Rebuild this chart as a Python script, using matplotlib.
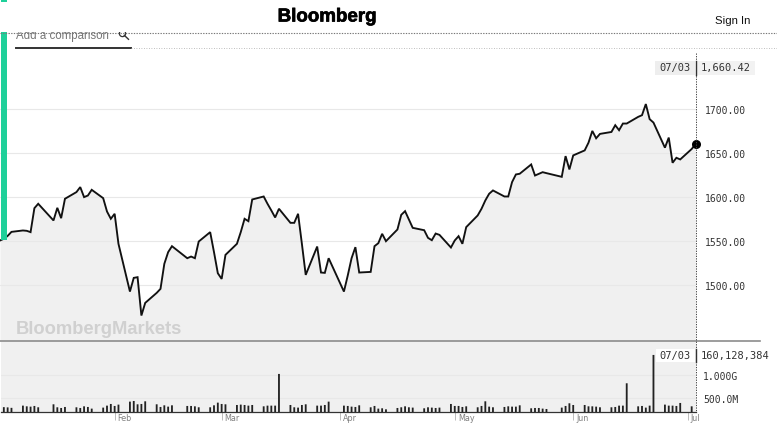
"""Bloomberg index page screenshot: price line, volume bars, page chrome."""
import matplotlib
matplotlib.use("Agg")
import matplotlib.pyplot as plt
import matplotlib.dates as mdates
import matplotlib.patheffects as pe
import pandas as pd

HOLIDAYS = ["2018-01-15", "2018-02-19", "2018-03-30", "2018-05-28"]
dates = pd.bdate_range("2018-01-02", "2018-07-03").difference(pd.to_datetime(HOLIDAYS))

prices = [
    1550.8, 1552.7, 1556.0, 1560.6,
    1562.2, 1561.8, 1560.3, 1587.6, 1592.6,
    1573.6, 1588.0, 1576.2, 1598.3,
    1605.9, 1611.6, 1600.2, 1602.0, 1608.5,
    1599.0, 1583.8, 1575.5, 1581.2, 1547.0,
    1492.6, 1508.2, 1509.0, 1465.3, 1479.7,
    1491.1, 1495.7, 1524.2, 1537.5, 1544.3,
    1530.6, 1532.5, 1530.6, 1549.6,
    1560.3, 1537.5, 1513.5, 1507.0, 1534.4,
    1547.0, 1560.3, 1575.5, 1572.8, 1597.5,
    1600.9, 1592.6, 1585.0, 1577.0, 1586.9,
    1570.9, 1570.9, 1581.2, 1547.0, 1511.6,
    1543.9, 1514.3, 1513.9, 1530.6,
    1492.6, 1510.9, 1530.6, 1543.2, 1514.3,
    1515.0, 1544.3, 1547.7, 1558.4, 1550.0,
    1563.3, 1580.0, 1584.2, 1574.7, 1565.2,
    1562.5, 1553.8, 1551.1, 1558.7, 1557.2,
    1542.8, 1550.8, 1555.7, 1547.0, 1566.0,
    1579.3, 1586.9, 1596.4, 1604.0, 1607.8,
    1600.9, 1600.9, 1617.3, 1626.0, 1626.8,
    1637.4, 1624.8, 1626.7, 1628.6, 1627.5,
    1623.3, 1646.9, 1631.7, 1647.7,
    1653.4, 1662.2, 1675.6, 1667.2, 1672.2,
    1674.4, 1682.1, 1676.4, 1684.0, 1684.0,
    1691.6, 1693.5, 1706.2, 1689.0, 1685.1,
    1656.5, 1668.0, 1639.3, 1645.0, 1643.1,
    1655.0, 1660.42,
]

# volume in millions
volumes = [
    300, 295, 290, 280,
    328, 313, 306, 321, 292,
    357, 292, 277, 299,
    292, 277, 313, 299, 263,
    285, 328, 364, 321, 350,
    415, 429, 357, 364, 422,
    357, 299, 335, 306, 335,
    321, 321, 313, 292,
    292, 335, 393, 364, 357,
    342, 350, 342, 328, 342,
    313, 328, 328, 328, 1017,
    342, 292, 285, 342, 357,
    328, 328, 342, 415,
    328, 321, 306, 299, 335,
    292, 321, 263, 270, 248,
    277, 292, 313, 292, 285,
    270, 292, 285, 277, 285,
    364, 321, 321, 299, 313,
    292, 321, 422, 306, 292,
    299, 313, 306, 306, 335,
    270, 277, 277, 263, 255,
    285, 321, 379, 342,
    342, 313, 313, 306, 292,
    292, 299, 328, 328, 814,
    313, 321, 285, 328, 1430,
    350, 328, 328, 321, 386,
    313, 160,
]

price_ticks = [1500, 1550, 1600, 1650, 1700]
price_labels = ["1500.00", "1550.00", "1600.00", "1650.00", "1700.00"]
volume_ticks = [500, 1000]
volume_labels = ["500.0M", "1.000G"]
month_starts = ["2018-02-01", "2018-03-01", "2018-04-01", "2018-05-01", "2018-06-01", "2018-07-01"]
month_labels = ["Feb", "Mar", "Apr", "May", "Jun", "Jul"]

W, H = 777, 427
GREEN = "#1fd09a"
FILL = "#f0f0f0"
GRID = "#e8e8e8"
MONO = "DejaVu Sans Mono"


def pixel_axes(fig, left, top, right, bottom, **kw):
    return fig.add_axes([left / W, 1 - bottom / H, (right - left) / W, (bottom - top) / H], **kw)


fig = plt.figure(figsize=(W / 100, H / 100), dpi=100, facecolor="white")
x_start, x_end = mdates.date2num(dates[0]), mdates.date2num(dates[-1])

# price panel
ax = pixel_axes(fig, 0, 49.3, 695.5, 342)
ax.plot(dates, prices, color="#111111", lw=1.35, solid_joinstyle="miter", zorder=3, clip_on=False)
ax.fill_between(dates, prices, 1400, color=FILL, lw=0, zorder=1)
ax.set_xlim(x_start, x_end)
ax.set_ylim(1436.3, 1769.7)
ax.set_yticks(price_ticks, price_labels)
ax.yaxis.tick_right()
ax.tick_params(axis="y", length=0, pad=6.5, labelsize=7.0, labelcolor="#333333", labelfontfamily=MONO)
ax.set_xticks([])
ax.grid(axis="y", color=GRID, lw=0.8, zorder=2)
ax.set_axisbelow(False)
for s in ax.spines.values():
    s.set_visible(False)
ax.plot([dates[-1]], [prices[-1]], "o", color="black", ms=6.5, mew=0, zorder=5, clip_on=False)

# volume panel
vax = pixel_axes(fig, 1, 342, 695.5, 413.3)
vax.set_facecolor(FILL)
bars = vax.bar(dates, volumes, width=0.48, bottom=0, color="#222222", zorder=3)
for b in bars:
    b.set_snap(False)
vax.set_xlim(x_start + 1 / 3.82, x_end)
vax.set_ylim(183, 1733)
vax.set_yticks(volume_ticks, volume_labels)
vax.yaxis.tick_right()
vax.tick_params(axis="y", length=0, pad=5.5, labelsize=7.0, labelcolor="#333333", labelfontfamily=MONO)
vax.grid(axis="y", color=GRID, lw=0.8, zorder=1)
vax.set_axisbelow(True)
for name, s in vax.spines.items():
    s.set_visible(name == "bottom")
vax.spines["bottom"].set_color("#333333")
vax.spines["bottom"].set_linewidth(0.9)
vax.set_xticks(pd.to_datetime(month_starts), [""] * len(month_starts))
vax.tick_params(axis="x", length=5.5, width=0.7, color="#bbbbbb", pad=0)
for d, lab in zip(pd.to_datetime(month_starts), month_labels):
    vax.annotate(lab, xy=(mdates.date2num(d), 0), xycoords=vax.get_xaxis_transform(), xytext=(2.2, -3.6),
                 textcoords="offset points", fontsize=5.8, color="#808080", ha="left", va="center",
                 family="DejaVu Sans", annotation_clip=False)

# page chrome, in pixel coordinates
page = fig.add_axes([0, 0, 1, 1], facecolor="none", zorder=10)
page.set_xlim(0, W)
page.set_ylim(H, 0)
page.axis("off")

page.fill_between([1, 7], 0, 3, color=GREEN, lw=0)
page.fill_between([1, 7], 33.3, 241, color=GREEN, lw=0, zorder=2)
page.plot([0, W], [33.5, 33.5], color="#777777", lw=0.8, ls=(0, (1.2, 1.2)), zorder=4)
page.text(327, 18, "Bloomberg", fontsize=13.5, fontweight="bold", family="Liberation Sans", color="black",
          ha="center", va="center", zorder=3, path_effects=[pe.withStroke(linewidth=0.5, foreground="black")])
page.text(733, 20.5, "Sign In", fontsize=8.2, family="Liberation Sans", color="#111111", ha="center", va="center",
          zorder=3)

# the search box slides under the page header, so its text is cut off at the top
page.text(16, 35.5, "Add a comparison", fontsize=8.3, family="Liberation Sans", color="#777777", ha="left",
          va="center", zorder=0.5)
page.plot([122], [34], "o", mfc="none", mec="#333333", mew=0.9, ms=4.5, zorder=0.5)
page.plot([124.3, 128.5], [36.3, 40.3], color="#333333", lw=1, zorder=0.5)
page.fill_between([0, W], 3, 33.3, color="white", lw=0, zorder=0.8)
page.plot([16, 131], [48.7, 48.7], color="#333333", lw=1.4)
page.plot([131, W], [49.3, 49.3], color="#aaaaaa", lw=0.6, ls=(0, (1, 2)))

page.plot([0, 760], [342, 342], color="#8c8c8c", lw=1.2, zorder=4)
page.plot([695.5, 695.5], [54, 413], color="#444444", lw=0.7, ls=(0, (1.3, 1.3)), zorder=4)
page.text(16, 330, "BloombergMarkets", fontsize=13.2, fontweight="bold", family="Liberation Sans",
          color="#d0d0d0", ha="left", va="center", zorder=2)

# readouts
page.fill_between([655, 695], 61.5, 76, color="#eeeeee", lw=0)
page.fill_between([696, 755], 61.5, 76, color="#f2f2f2", lw=0)
page.plot([695.5, 695.5], [61.5, 76], color="#333333", lw=1, zorder=5)
page.text(675.5, 68.5, "07/03", fontsize=7.5, family=MONO, color="#333333", ha="center", va="center", zorder=6)
page.text(701, 68.5, "1,660.42", fontsize=7.5, family=MONO, color="#333333", ha="left", va="center", zorder=6)

page.fill_between([656, 695], 350, 363, color="white", lw=0)
page.fill_between([696, 772], 350, 363, color="white", lw=0)
page.plot([695.5, 695.5], [350, 363], color="#333333", lw=1, zorder=5)
page.text(675.5, 356.5, "07/03", fontsize=7.5, family=MONO, color="#333333", ha="center", va="center", zorder=6)
page.text(701, 356.5, "160,128,384", fontsize=7.5, family=MONO, color="#333333", ha="left", va="center", zorder=6)

fig.savefig("out.png", dpi=100)
plt.close(fig)
